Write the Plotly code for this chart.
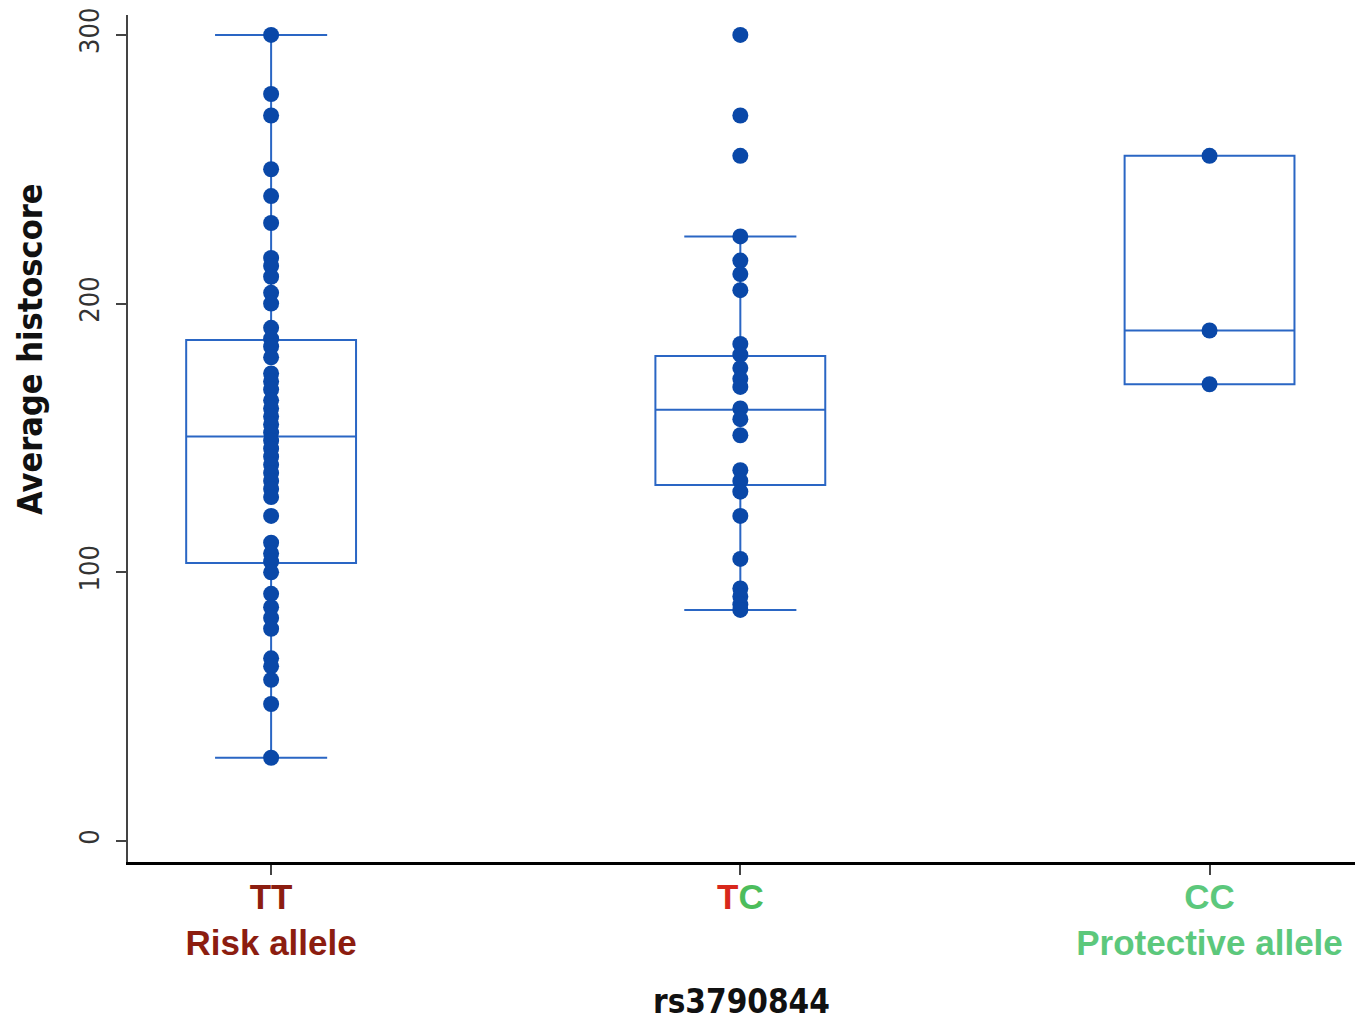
import plotly.graph_objects as go

# ---- data ----
categories = ["TT", "TC", "CC"]

tt_values = [300, 278, 270, 250, 240, 230, 217, 214, 210, 204, 200, 191, 187, 184,
             180, 174, 171, 168, 164, 161, 158, 155, 152, 149, 146, 143, 140, 137,
             134, 131, 128, 121, 111, 107, 104, 100, 92, 87, 83, 79, 68, 65, 60, 51, 31]
tc_values = [300, 270, 255, 225, 216, 211, 205, 185, 181, 176, 172, 169, 161, 157,
             151, 138, 134, 130, 121, 105, 94, 91, 88, 86]
cc_values = [255, 190, 170]

q1_vals = [103.5, 132.5, 170]
median_vals = [150.5, 160.5, 190]
q3_vals = [186.5, 180.5, 255]
lower_fence = [31, 86, 170]
upper_fence = [300, 225, 255]

tick_labels = [
    "<b><span style='color:#8c1d10'>TT</span></b><br><b><span style='color:#8c1d10'>Risk allele</span></b>",
    "<b><span style='color:#d8281c'>T</span><span style='color:#4cbd5c'>C</span></b><br> ",
    "<b><span style='color:#5cc87c'>CC</span></b><br><b><span style='color:#5cc87c'>Protective allele</span></b>",
]
y_ticks = [0, 100, 200, 300]

box_color = "#2a66c4"
point_color = "#0a48a8"

fig = go.Figure()

fig.add_trace(go.Box(
    x=categories, q1=q1_vals, median=median_vals, q3=q3_vals,
    lowerfence=lower_fence, upperfence=upper_fence,
    boxpoints=False, width=0.362, whiskerwidth=0.66,
    line=dict(color=box_color, width=2),
    fillcolor="rgba(0,0,0,0)", showlegend=False, hoverinfo="skip",
))

for cat, vals in zip(categories, [tt_values, tc_values, cc_values]):
    fig.add_trace(go.Scatter(
        x=[cat] * len(vals), y=vals, mode="markers",
        marker=dict(color=point_color, size=16, line=dict(width=0)),
        showlegend=False,
    ))

fig.update_layout(
    width=1355, height=1017,
    margin=dict(l=120, r=8, t=7, b=163, autoexpand=False),
    plot_bgcolor="white", paper_bgcolor="white",
    font=dict(family="Liberation Sans Narrow, DejaVu Sans Condensed, Arial Narrow"),
    xaxis=dict(
        type="category", range=[-0.305, 2.31], automargin=False,
        tickmode="array", tickvals=categories, ticktext=tick_labels,
        tickfont=dict(family="Liberation Sans, Arial", size=35),
        ticklabelstandoff=-8,
        showline=True, linecolor="black", linewidth=3,
        ticks="outside", ticklen=10, tickcolor="#444", tickwidth=1.5,
        showgrid=False, zeroline=False,
    ),
    yaxis=dict(
        range=[-7.8, 307.4], tickmode="array", tickvals=y_ticks, automargin=False,
        tickangle=-90, ticklabeloverflow="allow",
        tickfont=dict(family="Liberation Sans Narrow, DejaVu Sans Condensed", size=27, color="#333"),
        ticklabelstandoff=6,
        showline=True, linecolor="#444", linewidth=2,
        ticks="outside", ticklen=10, tickcolor="#444", tickwidth=1.5,
        showgrid=False, zeroline=False,
    ),
    annotations=[
        dict(text="<b>Average histoscore</b>", xref="paper", yref="paper",
             x=0, y=0.6045, xanchor="right", yanchor="middle", xshift=-76,
             textangle=-90, showarrow=False,
             font=dict(family="Liberation Sans Narrow, DejaVu Sans Condensed", size=34, color="#111")),
        dict(text="<b>rs3790844</b>", xref="paper", yref="paper",
             x=0.5, y=0, xanchor="center", yanchor="top", yshift=-118,
             showarrow=False,
             font=dict(family="Liberation Sans Narrow, DejaVu Sans Condensed", size=33, color="#111")),
    ],
)

fig.write_html("out.html")
